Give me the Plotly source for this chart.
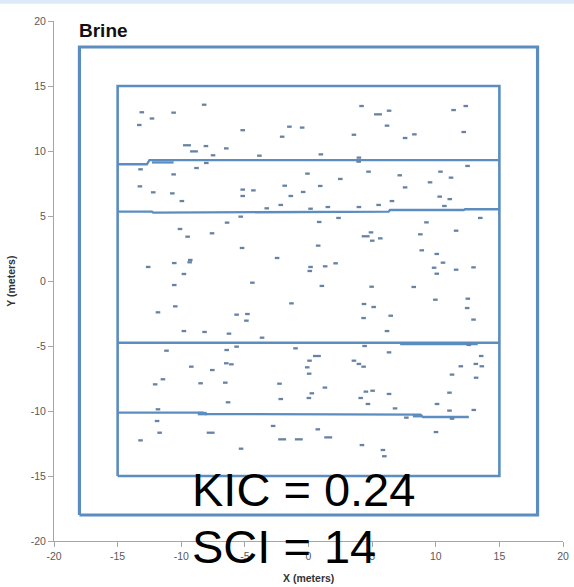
import plotly.graph_objects as go

# Model domain outlines (meters)
outer_x = [-18, 18, 18, -18, -18]
outer_y = [-18, -18, 18, 18, -18]
inner_x = [-15, 15, 15, -15, -15]
inner_y = [-15, -15, 15, 15, -15]

# Layer boundary traces (slightly stepped)
bound1_x = [-15, -12.7, -12.5, 15]
bound1_y = [8.98, 8.98, 9.3, 9.3]
bound1b_x = [-12.3, -10.6]
bound1b_y = [9.12, 9.12]
bound2_x = [-15, -12.3, -12.2, -2, 3.3, 6.3, 6.4, 12.2, 12.3, 15]
bound2_y = [5.33, 5.33, 5.26, 5.3, 5.33, 5.33, 5.46, 5.46, 5.52, 5.52]
bound3_x = [-15, 15]
bound3_y = [-4.75, -4.75]
bound3b_x = [7.2, 13.3]
bound3b_y = [-4.86, -4.86]
bound4_x = [-15, -8.3, -8.1, 8.8, 9.0, 12.6]
bound4_y = [-10.13, -10.13, -10.23, -10.28, -10.46, -10.46]
bound4b_x = [-8.7, -8.0]
bound4b_y = [-10.2, -10.2]
bound4c_x = [8.2, 8.9]
bound4c_y = [-10.38, -10.38]

# Fracture dash centres and lengths
frac_x = [
    -13.1, -12.3, -13.3, -10.6, -8.2, -5.17, -1.5, -2.07, -9.55, -9.0, -8.06, -6.46, -7.5, -3.86,
    -13.2, -8.8, -8.03, -10.6, -13.25, -12.2, -10.7, -9.95, -5.17, -5.17, -4.33, -1.87, -1.39, -2.18,
    -3.28, -5.33,
    -0.5, 4.17, 5.46, 6.33, 6.17, 3.57, 7.59, 8.32, 11.4, 12.36, 12.2, 0.97, 3.96, 3.94, -0.08, 2.5,
    4.72, 7.17, 7.59, 10.37, 11.2, 12.5, 9.55, 0.92, -0.42, 10.31, 11.1, 10.68, 5.51, 6.56, 1.52,
    0.16, 3.96, 2.36, 13.5,
    -6.4, -10.1, -9.5, -7.58, -5.22, -2.47, -12.6, -10.55, -9.29, -9.34, -9.79, -10.55, -4.41,
    -1.34, -10.47, -11.83, -5.65, -4.8, -4.88, -9.79, -8.17, -6.25, -3.65, -5.65, -1.02,
    0.84, 4.91, 4.49, 5.01, 5.64, 0.76, 9.27, 8.79, 11.6, 8.9, 10.08, 10.57, 9.87, 10.08, 11.6,
    12.97, 0.16, 0.1, 1.31, 2.13, 1.05, 4.96, 8.27, 4.36, 5.12, 6.46, 4.33, 6.17, 9.97, 12.52,
    12.47, 12.97, 4.41, 12.6,
    -11.16, -6.43, -9.21, -7.56, -6.46, -6.06, -11.44, -12.05, -8.48, -6.54, -2.28, -2.18, -6.32,
    -11.83, -11.9, -11.7, -13.2, -7.69, -5.3, -2.78, -2.07, -0.76,
    6.33, 0.66, 0.08, -0.1, 0.05, 3.57, 3.96, 4.33, 1.29, 0.26, 0.03, 4.51, 5.04, 4.1, 4.67, 6.33,
    6.8, 13.57, 13.15, 13.62, 11.97, 11.28, 13.17, 11.08, 10.1, 11.08, 12.99, 7.69, 11.28, 0.73,
    1.55, 4.2, 5.85, 5.96, 10.02,
]
frac_y = [
    12.98, 12.5, 12.0, 12.95, 13.56, 11.6, 11.87, 11.1, 10.44, 9.97, 10.38, 10.2, 9.67, 9.64,
    8.59, 8.69, 9.08, 8.2, 7.28, 6.82, 6.74, 6.15, 7.03, 6.54, 6.97, 7.33, 6.54, 5.85,
    5.59, 4.95,
    11.8, 13.46, 12.82, 13.1, 11.95, 11.25, 11.0, 11.28, 13.15, 13.46, 11.46, 9.74, 9.49, 9.18, 8.26, 7.85,
    8.41, 8.13, 7.2, 8.41, 7.95, 8.85, 7.59, 7.31, 6.85, 6.49, 6.3, 5.77, 5.85, 6.15, 5.69,
    5.56, 5.69, 4.85, 4.85,
    4.49, 4.0, 3.41, 3.67, 2.54, 1.77, 1.08, 1.38, 1.62, 1.44, 0.54, -0.31, -0.13,
    -1.72, -1.95, -2.41, -2.59, -2.54, -3.05, -3.85, -3.92, -4.05, -4.36, -5.05, -5.18,
    4.54, 3.74, 3.44, 3.1, 3.28, 2.72, 4.51, 3.59, 3.87, 2.36, 2.08, 1.41, 1.02, 0.56, 0.87,
    1.05, 1.08, 0.77, 1.13, 1.36, -0.38, -0.44, -0.46, -1.77, -2.0, -2.67, -2.85, -3.85, -1.44, -1.36,
    -2.08, -2.97, -5.0, -4.92,
    -5.36, -5.31, -6.59, -6.85, -6.33, -6.41, -7.56, -7.95, -7.87, -7.82, -7.9, -9.08, -9.33,
    -9.87, -10.77, -11.67, -12.26, -11.67, -12.9, -11.15, -12.18, -12.18,
    -5.49, -5.77, -6.13, -6.64, -7.13, -6.13, -6.38, -6.59, -8.2, -8.64, -9.0, -8.51, -8.44, -9.0, -9.46, -8.69,
    -9.8, -5.77, -6.38, -6.56, -6.56, -7.2, -7.44, -8.59, -9.46, -9.97, -9.92, -10.51, -10.59, -11.41,
    -12.03, -12.62, -13.0, -13.48, -11.62,
]
long_frac = {8, 9, 32, 92, 141, 144, 145, 147, 176, 183, 184, 185, 188}
frac_len = [0.62 if i in long_frac else 0.36 for i in range(len(frac_x))]

x_ticks = [-20, -15, -10, -5, 0, 5, 10, 15, 20]
y_ticks = [-20, -15, -10, -5, 0, 5, 10, 15, 20]

BOX = "#5b8dc0"
FRAC = "#6683a3"

fig = go.Figure()


def add_line(xs, ys, width, color=BOX):
    fig.add_trace(go.Scatter(x=xs, y=ys, mode="lines",
                             line=dict(color=color, width=width),
                             hoverinfo="skip", showlegend=False))


add_line(outer_x, outer_y, 3.2)
add_line(inner_x, inner_y, 2.6)
add_line(bound1_x, bound1_y, 2.3)
add_line(bound1b_x, bound1b_y, 2.3)
add_line(bound2_x, bound2_y, 2.3)
add_line(bound3_x, bound3_y, 2.3)
add_line(bound3b_x, bound3b_y, 2.0)
add_line(bound4_x, bound4_y, 2.3)
add_line(bound4b_x, bound4b_y, 3.5)
add_line(bound4c_x, bound4c_y, 3.0)

# fractures as short horizontal segments
seg_x, seg_y = [], []
for cx, cy, ln in zip(frac_x, frac_y, frac_len):
    seg_x += [cx - ln / 2, cx + ln / 2, None]
    seg_y += [cy, cy, None]
add_line(seg_x, seg_y, 2.3, FRAC)

axis_common = dict(
    range=[-20, 20], showgrid=False, zeroline=False,
    showline=True, linecolor="#a6a6a6", linewidth=1,
    ticks="outside", ticklen=5, tickcolor="#a6a6a6", tickwidth=1,
    tickfont=dict(family="Liberation Sans", size=10.5, color="#595959"),
    mirror=False, automargin=False,
)

fig.update_layout(
    width=574, height=587,
    margin=dict(l=54, r=11, t=21, b=46, autoexpand=False),
    paper_bgcolor="white", plot_bgcolor="white",
    xaxis=dict(tickvals=x_ticks, ticktext=[str(v) for v in x_ticks], **axis_common),
    yaxis=dict(tickvals=y_ticks, ticktext=[str(v) for v in y_ticks], **axis_common),
    shapes=[dict(type="rect", xref="paper", yref="paper",
                 x0=-0.2, x1=1.1, y0=1.033, y1=1.06,
                 fillcolor="#dde9f8", line=dict(width=0), layer="below")],
    annotations=[
        dict(text="<b>Brine</b>", x=-18.2, y=19.3, xref="x", yref="y",
             xanchor="left", yanchor="middle", showarrow=False,
             font=dict(family="Liberation Sans", size=19, color="#111111")),
        dict(text="<b>X (meters)</b>", x=0, y=-0.071, xref="x", yref="paper",
             xanchor="center", yanchor="middle", showarrow=False,
             font=dict(family="Liberation Sans", size=10.5, color="#333333")),
        dict(text="<b>Y (meters)</b>", x=-0.085, y=0.5, xref="paper", yref="paper",
             xanchor="center", yanchor="middle", showarrow=False, textangle=-90,
             font=dict(family="Liberation Sans", size=10.5, color="#333333")),
        dict(text="KIC = 0.24", x=-9.33, y=0.099, xref="x", yref="paper",
             xanchor="left", yanchor="middle", showarrow=False,
             font=dict(family="Liberation Sans", size=47, color="black")),
        dict(text="SCI = 14", x=-9.33, y=-0.0115, xref="x", yref="paper",
             xanchor="left", yanchor="middle", showarrow=False,
             font=dict(family="Liberation Sans", size=47, color="black")),
    ],
)

fig.write_html("out.html")
